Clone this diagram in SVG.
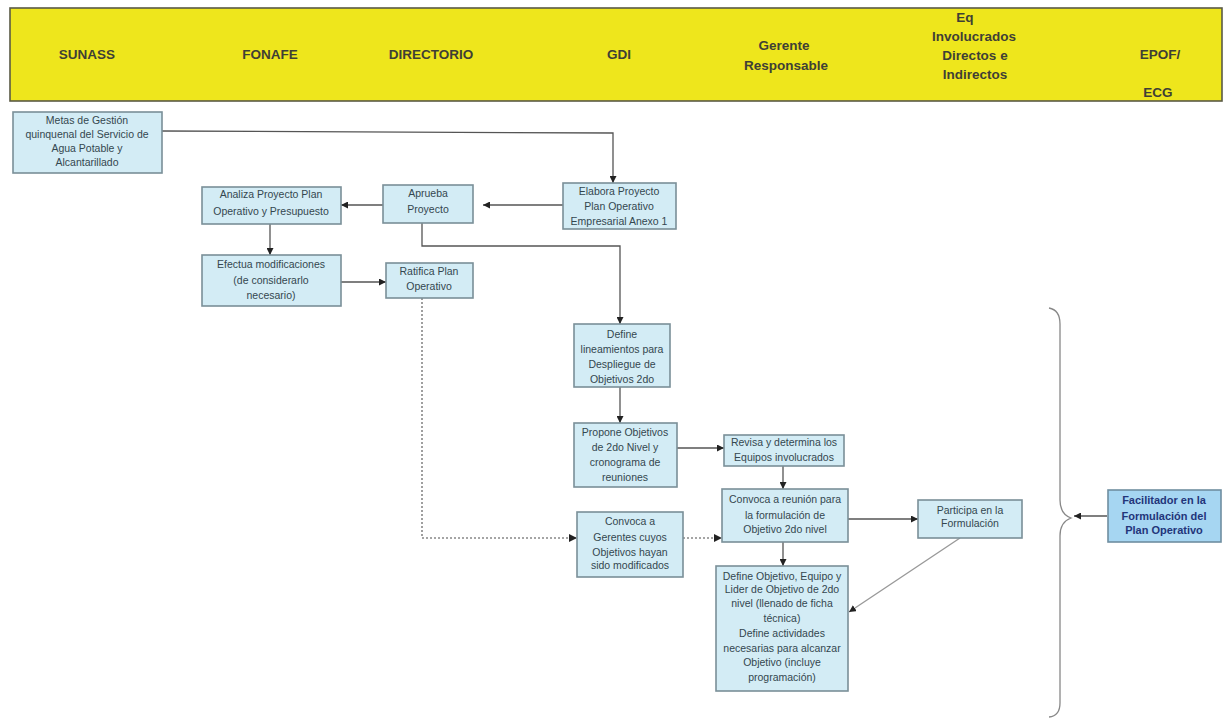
<svg xmlns="http://www.w3.org/2000/svg" width="1226" height="718" viewBox="0 0 1226 718">
  <style>
    .hdr { font-family: "Liberation Sans", Arial, sans-serif; font-size: 13.5px; font-weight: bold; fill: #3f3f35; text-anchor: middle; }
    .box { fill: #d3ecf5; stroke: #7a8f98; stroke-width: 1.6; }
    .lbl { font-family: "Liberation Sans", Arial, sans-serif; font-size: 10.5px; fill: #34474f; text-anchor: middle; }
    .fac { fill: #a6d6f2; stroke: #6f8ea0; stroke-width: 1.6; }
    .flbl { font-family: "Liberation Sans", Arial, sans-serif; font-size: 11px; font-weight: bold; fill: #23357a; text-anchor: middle; }
    .ln { fill: none; stroke: #555; stroke-width: 1.3; }
    .dot { fill: none; stroke: #888; stroke-width: 1.6; stroke-dasharray: 2 2; }
    .brace { fill: none; stroke: #888; stroke-width: 1.3; }
  </style>
  <defs>
    <marker id="arr" viewBox="0 0 10 10" refX="10" refY="5" markerWidth="7" markerHeight="7" orient="auto" markerUnits="userSpaceOnUse">
      <path d="M0,0 L10,5 L0,10 z" fill="#222"/>
    </marker>
  </defs>

  <rect width="1226" height="718" fill="#ffffff"/>

  <!-- header band with the actors -->
  <g id="header">
    <rect x="10" y="8" width="1212" height="93" fill="#eee61c" stroke="#5a5a45" stroke-width="1.6"/>
    <text class="hdr" x="87" y="59">SUNASS</text>
    <text class="hdr" x="270" y="59">FONAFE</text>
    <text class="hdr" x="431" y="59">DIRECTORIO</text>
    <text class="hdr" x="619" y="59" font-weight="normal">GDI</text>
    <text class="hdr" x="784" y="50">Gerente</text>
    <text class="hdr" x="786" y="70">Responsable</text>
    <text class="hdr" x="965" y="22">Eq</text>
    <text class="hdr" x="974" y="41">Involucrados</text>
    <text class="hdr" x="975" y="60">Directos e</text>
    <text class="hdr" x="975" y="79">Indirectos</text>
    <text class="hdr" x="1160" y="59">EPOF/</text>
    <text class="hdr" x="1158" y="97">ECG</text>
  </g>

  <!-- connectors -->
  <g id="connectors">
    <polyline class="ln" points="162,131 613,133 613,183" marker-end="url(#arr)"/>
    <line class="ln" x1="563" y1="205" x2="483" y2="205" marker-end="url(#arr)"/>
    <line class="ln" x1="383" y1="205" x2="341" y2="205" marker-end="url(#arr)"/>
    <line class="ln" x1="270" y1="224" x2="270" y2="255" marker-end="url(#arr)"/>
    <line class="ln" x1="341" y1="282" x2="386" y2="282" marker-end="url(#arr)"/>
    <polyline class="ln" points="422,223 422,246 620,246 620,324" marker-end="url(#arr)"/>
    <line class="ln" x1="620" y1="387" x2="620" y2="423" marker-end="url(#arr)"/>
    <line class="ln" x1="677" y1="448" x2="724" y2="448" marker-end="url(#arr)"/>
    <line class="ln" x1="783" y1="466" x2="783" y2="489" marker-end="url(#arr)"/>
    <polyline class="dot" points="422,298 422,538 577,538"/>
    <path d="M569,534 L577,538 L569,542 z" fill="#222"/>
    <line class="dot" x1="683" y1="538" x2="716" y2="538"/>
    <path d="M714,534 L722,538 L714,542 z" fill="#222"/>
    <line class="ln" x1="783" y1="542" x2="783" y2="566" marker-end="url(#arr)"/>
    <line class="ln" x1="848" y1="519" x2="918" y2="519" marker-end="url(#arr)"/>
    <line x1="960" y1="538" x2="849" y2="612" stroke="#999" stroke-width="1.3" marker-end="url(#arr)"/>
    <!-- curly brace grouping the formulation steps -->
    <path class="brace" d="M1049,308 Q1060,310 1060,324 L1060,500 Q1060,514 1071,518 Q1060,522 1060,536 L1060,703 Q1060,716 1049,717"/>
    <line class="ln" x1="1107" y1="516" x2="1074" y2="516" marker-end="url(#arr)"/>
  </g>

  <g id="metas">
    <rect class="box" x="13" y="112" width="149" height="61"/>
    <text class="lbl" x="87" y="124">Metas de Gestión</text>
    <text class="lbl" x="87" y="138">quinquenal del Servicio de</text>
    <text class="lbl" x="87" y="152">Agua Potable y</text>
    <text class="lbl" x="87" y="166">Alcantarillado</text>
  </g>

  <g id="analiza">
    <rect class="box" x="202" y="187" width="139" height="37"/>
    <text class="lbl" x="271" y="198">Analiza Proyecto Plan</text>
    <text class="lbl" x="271" y="215">Operativo y Presupuesto</text>
  </g>

  <g id="efectua">
    <rect class="box" x="202" y="255" width="139" height="51"/>
    <text class="lbl" x="271" y="268">Efectua modificaciones</text>
    <text class="lbl" x="271" y="284">(de considerarlo</text>
    <text class="lbl" x="271" y="299">necesario)</text>
  </g>

  <g id="aprueba">
    <rect class="box" x="383" y="185" width="90" height="38"/>
    <text class="lbl" x="428" y="197">Aprueba</text>
    <text class="lbl" x="428" y="213">Proyecto</text>
  </g>

  <g id="ratifica">
    <rect class="box" x="386" y="263" width="87" height="35"/>
    <text class="lbl" x="429" y="275">Ratifica Plan</text>
    <text class="lbl" x="429" y="290">Operativo</text>
  </g>

  <g id="elabora">
    <rect class="box" x="563" y="183" width="113" height="46"/>
    <text class="lbl" x="619" y="195">Elabora Proyecto</text>
    <text class="lbl" x="619" y="210">Plan Operativo</text>
    <text class="lbl" x="619" y="225">Empresarial Anexo 1</text>
  </g>

  <g id="define-lineamientos">
    <rect class="box" x="574" y="324" width="96" height="63"/>
    <text class="lbl" x="622" y="338">Define</text>
    <text class="lbl" x="622" y="353">lineamientos para</text>
    <text class="lbl" x="622" y="368">Despliegue de</text>
    <text class="lbl" x="622" y="383">Objetivos 2do</text>
  </g>

  <g id="propone">
    <rect class="box" x="574" y="423" width="103" height="64"/>
    <text class="lbl" x="625" y="436">Propone Objetivos</text>
    <text class="lbl" x="625" y="451">de 2do Nivel y</text>
    <text class="lbl" x="625" y="466">cronograma de</text>
    <text class="lbl" x="625" y="481">reuniones</text>
  </g>

  <g id="revisa">
    <rect class="box" x="724" y="435" width="120" height="31"/>
    <text class="lbl" x="784" y="446">Revisa y determina los</text>
    <text class="lbl" x="784" y="461">Equipos involucrados</text>
  </g>

  <g id="convoca-reunion">
    <rect class="box" x="722" y="489" width="126" height="53"/>
    <text class="lbl" x="785" y="503">Convoca a reunión para</text>
    <text class="lbl" x="785" y="519">la formulación de</text>
    <text class="lbl" x="785" y="533">Objetivo 2do nivel</text>
  </g>

  <g id="convoca-gerentes">
    <rect class="box" x="577" y="512" width="106" height="65"/>
    <text class="lbl" x="630" y="525">Convoca a</text>
    <text class="lbl" x="630" y="541">Gerentes cuyos</text>
    <text class="lbl" x="630" y="556">Objetivos hayan</text>
    <text class="lbl" x="630" y="569">sido modificados</text>
  </g>

  <g id="define-objetivo">
    <rect class="box" x="716" y="566" width="132" height="125"/>
    <text class="lbl" x="782" y="580">Define Objetivo, Equipo y</text>
    <text class="lbl" x="782" y="593">Lider de Objetivo de 2do</text>
    <text class="lbl" x="782" y="607">nivel (llenado de ficha</text>
    <text class="lbl" x="782" y="622">técnica)</text>
    <text class="lbl" x="782" y="637">Define actividades</text>
    <text class="lbl" x="782" y="652">necesarias para alcanzar</text>
    <text class="lbl" x="782" y="666">Objetivo (incluye</text>
    <text class="lbl" x="782" y="681">programación)</text>
  </g>

  <g id="participa">
    <rect class="box" x="918" y="500" width="104" height="38"/>
    <text class="lbl" x="970" y="514">Participa en la</text>
    <text class="lbl" x="970" y="527">Formulación</text>
  </g>

  <g id="facilitador">
    <rect class="fac" x="1108" y="490" width="113" height="52"/>
    <text class="flbl" x="1164" y="504">Facilitador en la</text>
    <text class="flbl" x="1164" y="520">Formulación del</text>
    <text class="flbl" x="1164" y="534">Plan Operativo</text>
  </g>
</svg>
